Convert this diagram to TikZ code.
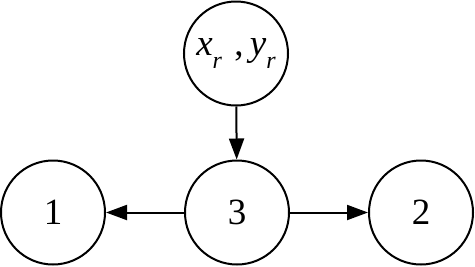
\documentclass[tikz,border=0pt]{standalone}
\usepackage{fontspec}
\setmainfont{Liberation Serif}
\usepackage{tikz}
\usetikzlibrary{arrows.meta,positioning}
\tikzset{
  st/.style={draw=black,circle,line width=2pt,minimum size=104pt,inner sep=0pt,font=\fontsize{37}{39}\selectfont},
  arr/.style={-{Triangle[length=21pt,width=15pt]},line width=2pt},
}
\newcommand{\sub}[1]{\raisebox{-0.35em}{\fontsize{24}{26}\selectfont\textit{#1}}}
\begin{document}
\begin{tikzpicture}[x=1pt,y=1pt]
    \useasboundingbox (0,0) rectangle (475,-266);
    % bottom row
    \node[st] (n3) at (237,-212.5) {3};
    \node[st,left=78pt of n3] (n1) {1};
    \node[st,right=78pt of n3] (n2) {2};
    % reference point
    \node[st,above=53pt of n3,xshift=-1pt] (xy) {\textit{x}\sub{r}\,\,,\,\textit{y}\sub{r}};
    \draw[arr] (xy) -- (n3);
    \draw[arr] (n3) -- (n1);
    \draw[arr] (n3) -- (n2);
  \end{tikzpicture}
\end{document}
